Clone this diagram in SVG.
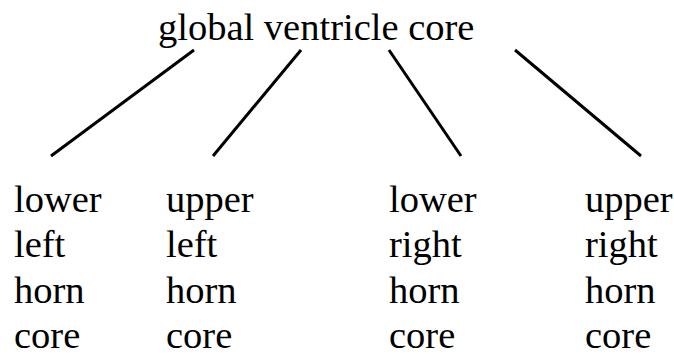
<svg xmlns="http://www.w3.org/2000/svg" width="674" height="358" viewBox="0 0 674 358">
<style>
text{font-family:'Liberation Serif','Times New Roman',Times,serif;font-size:38.5px;fill:#000}
.c line{stroke:#000;stroke-width:3;stroke-linecap:butt}
</style>
<rect width="674" height="358" fill="#fff"/>
<g id="root"><text x="158" y="40" font-family="Liberation Serif, Times New Roman, serif">global ventricle core</text></g>
<g class="c" id="connectors">
<line x1="194" y1="50" x2="51" y2="156"/>
<line x1="301" y1="50" x2="213" y2="156"/>
<line x1="389" y1="50" x2="461" y2="156"/>
<line x1="515" y1="50" x2="641" y2="156"/>
</g>
<g id="n1"><text x="14" y="212">lower</text><text x="14" y="257">left</text><text x="14" y="303">horn</text><text x="14" y="348">core</text></g>
<g id="n2"><text x="166" y="212">upper</text><text x="166" y="257">left</text><text x="166" y="303">horn</text><text x="166" y="348">core</text></g>
<g id="n3"><text x="389" y="212">lower</text><text x="389" y="257">right</text><text x="389" y="303">horn</text><text x="389" y="348">core</text></g>
<g id="n4"><text x="585" y="212">upper</text><text x="585" y="257">right</text><text x="585" y="303">horn</text><text x="585" y="348">core</text></g>
</svg>
